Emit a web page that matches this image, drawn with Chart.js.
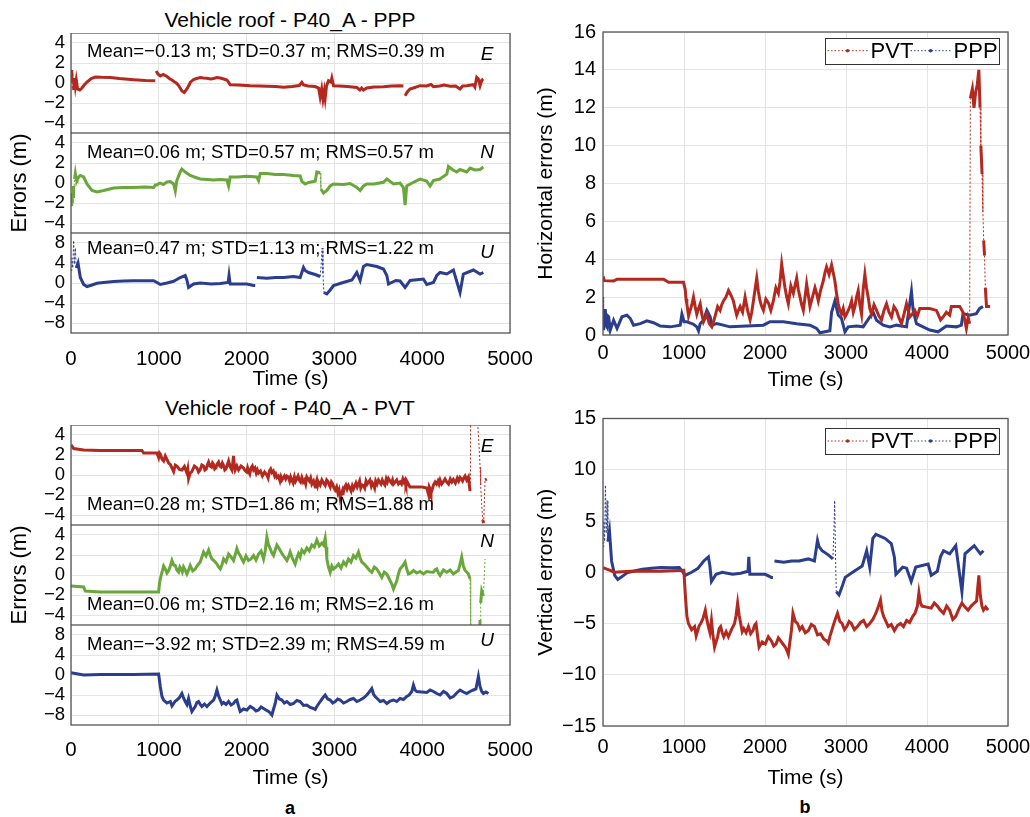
<!DOCTYPE html>
<html>
<head>
<meta charset="utf-8">
<script src="https://cdn.jsdelivr.net/npm/chart.js@4.4.0/dist/chart.umd.min.js"></script>
<style>
  body { margin: 0; background: #fff; width: 1030px; height: 817px; position: relative; overflow: hidden;
         font-family: "Liberation Sans", Arial, sans-serif; }
  canvas { position: absolute; }
  .lbl { position: absolute; transform: translate(-50%, -50%); white-space: nowrap; color: #000; }
</style>
</head>
<body>
<div class="lbl" style="left:290px;top:20px;font-size:21px">Vehicle roof - P40_A - PPP</div>
<div class="lbl" style="left:290px;top:408px;font-size:21px">Vehicle roof - P40_A - PVT</div>
<div class="lbl" style="left:290px;top:808px;font-size:18px;font-weight:bold">a</div>
<div class="lbl" style="left:805px;top:807px;font-size:18px;font-weight:bold">b</div>
<script>
const FONT = '"Liberation Sans", Arial, sans-serif';
const RED = '#b3291f', GREEN = '#6aa73a', BLUE = '#2b3d8d';
const GRID = '#e4e4e4';

// tick labels
const timeTicks = [0, 1000, 2000, 3000, 4000, 5000];
const enTicks = [-4, -2, 0, 2, 4];
const uTicks = [-8, -4, 0, 4, 8];
const horTicks = [0, 2, 4, 6, 8, 10, 12, 14, 16];
const verTicks = [-15, -10, -5, 0, 5, 10, 15];
const legendNames = ['PVT', 'PPP'];

// statistics printed in the strips
const pppStats = ['Mean=\u22120.13 m; STD=0.37 m; RMS=0.39 m', 'Mean=0.06 m; STD=0.57 m; RMS=0.57 m', 'Mean=0.47 m; STD=1.13 m; RMS=1.22 m'];
const pvtStats = ['Mean=0.28 m; STD=1.86 m; RMS=1.88 m', 'Mean=0.06 m; STD=2.16 m; RMS=2.16 m', 'Mean=\u22123.92 m; STD=2.39 m; RMS=4.59 m'];
const compNames = ['E', 'N', 'U'];

// PPP errors [time s, value m]
const pppE = [[0,0.2],[8,1.3],[15,-0.6],[22,1.0],[30,-0.7],[40,0.5],[50,-0.3],[60,0.3],[75,-0.6],[100,-0.7],[125,-0.5],[150,-0.2],[182,0.1],[230,0.45],[277,0.6],[350,0.57],[448,0.55],[550,0.45],[713,0.33],[850,0.25],[960,0.22],[962,null],[970,1.2],[990,0.9],[1017,0.7],[1050,0.85],[1093,0.65],[1120,0.45],[1150,0.3],[1180,0.1],[1206,-0.05],[1230,-0.3],[1263,-0.8],[1290,-0.95],[1320,-0.6],[1345,-0.2],[1358,0.05],[1396,0.35],[1430,0.45],[1472,0.55],[1510,0.5],[1548,0.48],[1590,0.4],[1624,0.45],[1660,0.55],[1700,0.5],[1740,0.4],[1776,0.3],[1813,-0.17],[1900,-0.2],[2041,-0.27],[2150,-0.3],[2231,-0.33],[2330,-0.35],[2421,-0.43],[2520,-0.35],[2600,-0.25],[2629,0.07],[2648,-0.2],[2700,-0.3],[2780,-0.35],[2820,-0.5],[2838,-1.4],[2855,-0.6],[2870,-1.6],[2885,-0.8],[2895,-1.5],[2910,-0.3],[2933,0.23],[2960,0.1],[2971,0.5],[2990,-0.27],[3050,-0.3],[3150,-0.35],[3255,-0.45],[3290,-0.7],[3310,-0.5],[3331,-0.7],[3369,-0.5],[3450,-0.4],[3559,-0.37],[3650,-0.3],[3748,-0.27],[3786,-0.3],[3795,null],[3805,-1.27],[3830,-0.9],[3860,-0.6],[3900,-0.5],[3976,-0.27],[4050,-0.3],[4100,-0.15],[4128,-0.37],[4200,-0.3],[4250,-0.2],[4318,-0.33],[4380,-0.3],[4431,-0.6],[4460,-0.3],[4507,-0.27],[4583,-0.17],[4600,-0.4],[4621,0.57],[4640,0.4],[4659,-0.27],[4680,0.3],[4697,0.4]];
const pppN = [[0,-1.8],[5,-2.3],[11,-1.0],[18,-2.0],[25,-0.3],[30,-1.5],[40,0.4],[49,0.95],[60,0.3],[68,0.25],[87,0.6],[106,0.75],[144,0.6],[182,-0.1],[239,-0.75],[296,-0.9],[372,-0.75],[486,-0.5],[600,-0.45],[713,-0.45],[850,-0.4],[941,-0.45],[960,-0.2],[979,-0.2],[1000,-0.05],[1017,0],[1050,-0.15],[1093,0.1],[1131,0.15],[1169,-0.1],[1188,-0.8],[1206,0.25],[1244,1.1],[1263,1.4],[1301,1.1],[1358,0.75],[1420,0.55],[1472,0.4],[1550,0.35],[1624,0.3],[1700,0.35],[1776,0.3],[1795,-0.3],[1813,0.6],[1900,0.6],[2003,0.67],[2117,0.6],[2136,0.25],[2155,0.95],[2231,0.95],[2330,0.85],[2421,0.85],[2534,0.75],[2610,0.7],[2629,0.17],[2667,-0.1],[2705,0.05],[2781,0.17],[2800,1.1],[2838,1.0],[2846,-0.6],[2876,-1.0],[2914,-0.75],[2952,-0.3],[2990,-0.1],[3100,-0.15],[3179,-0.05],[3255,-0.45],[3293,-0.75],[3331,-0.3],[3369,-0.1],[3450,-0.1],[3559,0.07],[3597,0.4],[3673,-0.1],[3748,0],[3786,-0.45],[3805,-2.2],[3824,-0.3],[3900,0.07],[3976,0.4],[4050,0.2],[4090,-0.3],[4128,0.25],[4200,0.4],[4280,0.88],[4299,1.65],[4350,1.3],[4393,1.1],[4431,1.35],[4507,1.1],[4545,1.5],[4600,1.3],[4659,1.35],[4697,1.6]];
const pppU = [[0,2.5],[10,5],[20,3],[30,8.5],[40,3.8],[50,7],[60,3],[80,4],[106,1.1],[144,-0.3],[182,-0.7],[239,-0.4],[296,-0.05],[372,0.1],[486,0.3],[600,0.4],[713,0.47],[850,0.45],[941,0.47],[979,0.1],[1017,-0.3],[1093,0],[1169,0.35],[1244,1.1],[1301,1.5],[1320,0.6],[1339,-0.9],[1396,-0.2],[1472,0],[1600,-0.2],[1700,-0.1],[1790,0.1],[1800,1.5],[1813,-0.2],[1900,-0.2],[2003,-0.2],[2079,-0.5],[2098,-0.5],[2108,null],[2117,1.1],[2231,0.97],[2330,1.1],[2421,1.1],[2534,1.3],[2610,1.1],[2648,3.1],[2667,2.5],[2705,2.1],[2781,1.7],[2838,1.3],[2850,3.8],[2860,7],[2870,1.8],[2880,-1.9],[2914,-2.2],[2952,-1.4],[2990,-0.5],[3100,0.1],[3200,0.6],[3255,2.1],[3293,0.5],[3331,3.3],[3369,3.7],[3483,3.3],[3559,2.8],[3597,1.5],[3616,-0.2],[3700,0.5],[3748,0.4],[3805,-0.9],[3862,0.5],[4014,0.8],[4052,-0.3],[4128,0.1],[4166,1.5],[4204,2.1],[4280,1.8],[4355,2.6],[4431,-1.9],[4469,1.8],[4583,2.6],[4659,1.8],[4697,2.1]];

// PVT errors [time s, value m]
const pvtE = [[0,3.0],[30,2.65],[144,2.5],[334,2.45],[713,2.45],[808,2.45],[827,2.2],[979,2.2],[998,1.75],[1008,2.2],[1017,2.1],[1036,1.6],[1055,1.4],[1074,1.9],[1093,1.55],[1112,1.2],[1131,1.05],[1150,0.7],[1169,0.35],[1188,1.0],[1206,0.9],[1235,0.55],[1263,0.5],[1292,0.85],[1320,0.2],[1330,0.6],[1339,-0.35],[1358,0.2],[1377,0.35],[1405,0.9],[1434,0.7],[1452,0.3],[1470,0.5],[1490,1.0],[1510,0.9],[1525,0.5],[1540,0.6],[1553,1.0],[1567,1.3],[1583,0.9],[1600,0.8],[1612,1.2],[1624,1.05],[1637,0.6],[1650,0.7],[1665,1.1],[1681,1.3],[1695,0.9],[1710,0.8],[1724,1.2],[1738,0.95],[1752,0.5],[1765,0.6],[1780,1.0],[1795,1.4],[1813,0.8],[1832,0.5],[1841,1.1],[1851,1.9],[1860,1.0],[1870,0.5],[1889,0.9],[1908,0.5],[1936,0.9],[1965,0.7],[1982,0.45],[2000,0.3],[2011,0.7],[2022,0.35],[2036,0.1],[2050,0.7],[2065,0.9],[2079,0.5],[2095,0.7],[2110,0.2],[2123,0.5],[2136,0.2],[2158,0.4],[2180,-0.1],[2205,0.3],[2231,0],[2245,-0.3],[2260,0.4],[2274,0.6],[2288,0.25],[2304,0.4],[2320,-0.1],[2332,0.1],[2345,-0.25],[2362,-0.1],[2380,-0.6],[2391,-0.2],[2402,-0.5],[2416,-0.3],[2430,-0.1],[2445,-0.4],[2459,-0.1],[2475,-0.2],[2490,-0.6],[2502,-0.2],[2515,-0.5],[2530,-0.8],[2545,-0.2],[2558,-0.6],[2572,-0.35],[2586,-0.1],[2600,-0.5],[2615,-0.7],[2629,-0.25],[2645,-0.7],[2660,-0.5],[2673,-0.9],[2686,-0.2],[2700,-0.4],[2715,-0.6],[2729,-0.3],[2743,-0.9],[2762,-0.6],[2781,-1.2],[2790,-0.8],[2800,-0.5],[2810,-1.0],[2819,-0.7],[2838,-1.0],[2857,-0.5],[2876,-0.8],[2895,-1.05],[2912,-0.5],[2930,-0.7],[2941,-1.0],[2952,-1.2],[2966,-0.7],[2980,-0.9],[2995,-1.3],[3009,-1.5],[3025,-1.2],[3040,-1.8],[3053,-1.5],[3066,-2.3],[3078,-1.9],[3090,-1.6],[3097,-2.0],[3104,-1.6],[3117,-1.2],[3130,-1.0],[3145,-1.4],[3160,-1.05],[3175,-1.3],[3190,-1.6],[3204,-1.1],[3217,-1.4],[3231,-1.1],[3245,-0.8],[3260,-1.2],[3274,-0.9],[3287,-0.6],[3300,-1.3],[3315,-1.0],[3331,-1.05],[3345,-1.3],[3360,-0.6],[3374,-0.9],[3388,-0.7],[3404,-0.5],[3420,-1.1],[3432,-0.8],[3445,-1.0],[3458,-1.3],[3470,-0.6],[3486,-0.9],[3502,-0.5],[3516,-0.7],[3530,-0.9],[3545,-0.5],[3559,-0.8],[3575,-1.0],[3590,-0.4],[3603,-0.7],[3616,-0.35],[3633,-0.6],[3650,-0.8],[3662,-0.5],[3673,-0.9],[3692,-0.7],[3710,-0.5],[3729,-0.9],[3748,-0.7],[3764,-0.9],[3780,-0.4],[3793,-0.7],[3805,-0.5],[3815,-0.9],[3824,-0.6],[3842,-0.9],[3860,-1.2],[3919,-1.2],[4000,-1.2],[4052,-1.3],[4062,-1.6],[4071,-1.9],[4080,-1.2],[4090,-1.4],[4100,-1.8],[4109,-1.6],[4128,-1.0],[4147,-0.7],[4164,-0.9],[4180,-0.6],[4192,-0.9],[4204,-0.5],[4222,-0.9],[4240,-0.7],[4260,-0.4],[4280,-0.7],[4300,-0.9],[4320,-0.4],[4338,-0.7],[4355,-0.45],[4378,-0.8],[4400,-0.3],[4416,-0.6],[4431,-0.25],[4445,-0.4],[4460,-0.6],[4474,-0.3],[4488,-0.1],[4507,-0.5],[4526,-0.2],[4545,-1.6],[4550,5.6],[4629,5.6],[4640,4],[4650,2.5],[4659,0.8],[4666,-1],[4678,-3],[4689,-4.5],[4700,-4.8],[4716,-0.5],[4735,-0.4]];
const pvtN = [[0,-1.1],[144,-1.2],[163,-1.6],[334,-1.7],[713,-1.7],[998,-1.7],[1009,-0.75],[1022,-0.2],[1036,0.27],[1055,0.9],[1074,0.6],[1093,0.2],[1112,0.45],[1131,0.9],[1150,1.45],[1169,1.0],[1188,0.95],[1206,0.5],[1225,0.3],[1240,0.8],[1255,0.6],[1268,0.3],[1282,0.8],[1300,0.5],[1320,0.1],[1339,0.5],[1358,0.95],[1386,0.4],[1415,0.6],[1444,1.0],[1472,1.3],[1491,1.8],[1510,2.3],[1538,1.9],[1567,2.5],[1586,2.0],[1605,1.6],[1633,1.4],[1662,1.1],[1681,0.8],[1700,0.6],[1719,1.0],[1738,1.6],[1766,1.3],[1795,2.1],[1823,1.8],[1851,1.45],[1870,2.0],[1889,2.65],[1908,2.2],[1927,1.95],[1946,1.6],[1965,1.3],[1993,1.9],[2022,1.45],[2050,1.6],[2079,1.95],[2107,1.5],[2136,2.1],[2165,2.4],[2193,1.6],[2212,2.4],[2231,3.8],[2250,3.0],[2269,2.65],[2288,2.2],[2307,1.95],[2326,2.5],[2345,3.0],[2374,2.6],[2402,2.15],[2430,1.8],[2459,1.45],[2478,1.8],[2496,2.3],[2525,1.6],[2553,1.1],[2572,1.7],[2591,2.15],[2610,1.8],[2629,2.5],[2657,2.2],[2686,2.7],[2714,2.4],[2743,3.0],[2771,2.8],[2800,3.5],[2828,2.9],[2857,3.2],[2876,3.0],[2895,3.7],[2905,2.8],[2914,1.6],[2933,0.8],[2952,0.27],[2971,0.9],[2990,0.6],[3019,0.8],[3047,1.1],[3076,0.7],[3104,1.3],[3132,1.0],[3160,1.6],[3189,1.3],[3217,1.95],[3245,1.7],[3274,2.3],[3293,1.7],[3312,1.3],[3340,1.1],[3369,0.8],[3397,0.5],[3426,0.27],[3455,0.8],[3483,0.6],[3511,0.2],[3540,-0.25],[3568,0.3],[3597,0.1],[3625,-0.4],[3654,-0.9],[3673,-1.4],[3691,-1.0],[3710,-0.6],[3729,0.1],[3748,0.6],[3776,0.9],[3805,1.3],[3824,0.6],[3843,0.1],[3871,0.2],[3900,0.45],[3938,0.2],[3976,0.35],[4014,0.1],[4052,0.35],[4090,0.3],[4128,0.27],[4147,0.5],[4166,0.6],[4185,0.2],[4204,-0.05],[4242,0.5],[4280,0.27],[4318,0.5],[4355,0.1],[4384,0.3],[4412,0.45],[4431,1.1],[4450,1.8],[4469,0.9],[4488,0.45],[4507,0.3],[4526,0.1],[4545,-0.4],[4553,-5.6],[4655,-5.6],[4659,-4.5],[4666,-2.8],[4678,-1.6],[4697,-2.1],[4716,1.6]];
const pvtU = [[0,0.45],[144,0],[334,0.1],[713,0.1],[998,0.2],[1017,-2.3],[1036,-4.3],[1055,-5],[1093,-5.6],[1131,-5.3],[1150,-6.2],[1169,-5.7],[1188,-5.2],[1206,-5],[1235,-4.5],[1263,-3.7],[1282,-4.6],[1301,-5.3],[1320,-5.9],[1339,-4.7],[1358,-6.2],[1377,-7.3],[1396,-6.8],[1415,-6.3],[1434,-5.5],[1453,-5.3],[1472,-5.9],[1491,-6.3],[1520,-5.8],[1548,-6.3],[1586,-5.6],[1624,-5],[1643,-4.2],[1662,-3],[1681,-4.2],[1700,-5],[1719,-5.8],[1738,-5.5],[1766,-5.9],[1795,-5.3],[1823,-6.0],[1851,-5.7],[1870,-5.2],[1889,-5],[1908,-6.2],[1927,-7.3],[1965,-6.8],[2003,-7],[2041,-6.3],[2079,-6.7],[2107,-7.2],[2136,-7],[2165,-6.4],[2193,-6.7],[2221,-7.0],[2250,-7.3],[2269,-7.6],[2288,-8],[2307,-6.8],[2326,-5.7],[2345,-4],[2374,-4.8],[2402,-5],[2430,-5.6],[2459,-5.3],[2497,-5.9],[2534,-5.7],[2572,-5.1],[2610,-5.3],[2648,-6.1],[2686,-6],[2724,-6.5],[2762,-6.7],[2781,-6.9],[2800,-6.3],[2819,-5.8],[2838,-5.3],[2867,-4.6],[2895,-4],[2924,-4.8],[2952,-5],[2981,-5.6],[3009,-5.3],[3038,-4.8],[3066,-5],[3104,-5.6],[3141,-5.3],[3179,-4.9],[3217,-4.7],[3255,-5.3],[3293,-5],[3331,-4.6],[3369,-4],[3397,-3.4],[3426,-2.7],[3445,-3.8],[3464,-4.3],[3493,-4.8],[3521,-5.3],[3559,-5.1],[3597,-5.7],[3635,-5.2],[3673,-5],[3710,-5.3],[3748,-4.7],[3786,-4.9],[3824,-4.3],[3852,-4.0],[3881,-3.3],[3900,-2],[3919,-3.0],[3938,-3.3],[3995,-3.4],[4052,-3.5],[4090,-3.0],[4128,-3.3],[4166,-3.7],[4204,-4],[4242,-3.3],[4280,-3.7],[4318,-4.6],[4355,-4.3],[4393,-3.6],[4431,-3],[4469,-3.4],[4507,-3.7],[4545,-3.3],[4583,-3],[4612,-2.8],[4640,-0.3],[4659,-2.3],[4678,-3.3],[4697,-3.7],[4725,-3.4],[4754,-3.7]];

// horizontal errors [time s, value m]
const pvtHor = [[0,3.1],[16,2.87],[131,2.85],[173,2.95],[337,2.95],[748,2.95],[809,2.78],[994,2.78],[1015,2.4],[1025,1.9],[1035,1.65],[1056,1.0],[1076,1.3],[1097,1.6],[1117,2.0],[1138,1.5],[1158,1.1],[1179,1.4],[1200,1.65],[1220,1.1],[1241,0.7],[1262,0.9],[1282,1.1],[1312,0.6],[1343,0.43],[1364,0.7],[1384,1.0],[1415,1.5],[1446,1.3],[1466,1.6],[1487,1.8],[1518,2.0],[1549,2.35],[1580,2.1],[1610,1.8],[1630,1.4],[1651,1.05],[1672,1.3],[1693,1.5],[1723,1.2],[1754,2.0],[1785,1.3],[1816,0.8],[1836,1.2],[1857,1.8],[1877,2.4],[1898,3.0],[1918,2.3],[1939,1.8],[1960,1.5],[1980,1.3],[2011,1.9],[2042,1.7],[2072,1.3],[2103,1.8],[2134,2.5],[2165,2.2],[2185,2.8],[2206,3.75],[2226,3.1],[2247,2.5],[2268,2.0],[2288,1.65],[2319,2.6],[2350,2.2],[2370,2.6],[2391,3.0],[2411,2.4],[2432,2.0],[2452,1.6],[2473,1.3],[2494,2.0],[2514,2.7],[2535,2.1],[2555,1.5],[2586,2.0],[2617,2.5],[2637,2.2],[2658,1.8],[2689,2.4],[2719,2.85],[2740,3.3],[2760,3.6],[2791,3.2],[2822,3.7],[2842,3.3],[2863,2.85],[2883,2.2],[2904,1.65],[2924,1.3],[2945,1.1],[2966,1.4],[2987,0.95],[3007,1.1],[3028,1.3],[3048,1.5],[3069,1.8],[3090,1.2],[3110,1.5],[3130,2.0],[3151,2.35],[3171,1.6],[3192,1.1],[3212,2.4],[3233,3.2],[3253,2.5],[3274,2.0],[3294,1.4],[3315,1.1],[3346,1.6],[3377,1.3],[3407,1.0],[3438,0.8],[3469,1.3],[3500,1.65],[3531,1.2],[3562,0.95],[3592,1.5],[3623,1.3],[3654,0.9],[3685,0.6],[3716,1.1],[3747,1.65],[3768,1.3],[3788,0.95],[3818,1.1],[3849,1.3],[3880,1.0],[3911,1.4],[4034,1.4],[4116,1.3],[4137,1.1],[4168,0.8],[4198,0.95],[4239,1.2],[4280,1.05],[4301,1.5],[4404,1.5],[4445,1.2],[4466,0.8],[4486,0.35],[4507,0.9],[4527,0.6],[4535,12.5],[4560,13.0],[4580,12.0],[4600,12.8],[4620,13.2],[4640,14.0],[4655,12.0],[4665,10.0],[4680,8.5],[4690,6.5],[4700,5.0],[4710,4.2],[4720,2.5],[4735,1.5],[4780,1.5]];
const pppHor = [[0,2.0],[8,0.26],[20,1.3],[29,1.3],[40,0.5],[49,0.43],[60,1.0],[70,0.96],[90,0.26],[131,0.78],[173,0.35],[234,0.96],[296,1.05],[337,0.87],[378,0.52],[460,0.6],[542,0.75],[624,0.65],[707,0.47],[830,0.43],[953,0.52],[974,1.1],[1000,0.7],[1035,0.7],[1117,0.57],[1158,0.43],[1179,0.22],[1200,0.6],[1241,0.78],[1282,1.3],[1323,0.96],[1343,0.52],[1405,0.6],[1569,0.43],[1775,0.47],[1980,0.52],[2062,0.7],[2226,0.7],[2391,0.6],[2555,0.52],[2637,0.35],[2678,0.12],[2801,0.23],[2822,1.2],[2863,1.8],[2904,1.05],[2945,0.87],[2987,0.17],[3028,0.43],[3130,0.47],[3212,0.43],[3295,0.96],[3336,1.2],[3377,0.78],[3459,0.52],[3541,0.43],[3623,0.52],[3747,0.43],[3808,2.3],[3829,1.3],[3870,0.6],[3952,0.43],[4034,0.26],[4137,0.17],[4239,0.47],[4363,0.43],[4424,0.52],[4445,1.13],[4527,1.05],[4609,1.13],[4650,1.4],[4691,1.5]];

const minus = v => String(v).replace('-', '\u2212');

// frame, stats text, component tag and in-plot legend
const overlay = {
  id: 'overlay',
  afterDatasetsDraw(chart, args, o) {
    const { ctx, chartArea: a } = chart;
    ctx.save();
    if (o.legend) {
      const L = o.legend;
      const bx = a.right - L.dr - 174, by = a.top + L.dt;
      ctx.fillStyle = '#fff';
      ctx.fillRect(bx, by, 174, 26);
      ctx.strokeStyle = '#333';
      ctx.lineWidth = 1;
      ctx.strokeRect(Math.round(bx) + 0.5, Math.round(by) + 0.5, 174, 26);
      const colors = [RED, BLUE];
      const sx = [3, 86], tx = [46, 129];
      legendNames.forEach((name, i) => {
        const cy = by + 13;
        ctx.strokeStyle = colors[i];
        ctx.lineWidth = 1;
        ctx.setLineDash([1.5, 2]);
        ctx.beginPath();
        ctx.moveTo(bx + sx[i], cy);
        ctx.lineTo(bx + sx[i] + 40, cy);
        ctx.stroke();
        ctx.setLineDash([]);
        ctx.fillStyle = colors[i];
        ctx.beginPath();
        ctx.arc(bx + sx[i] + 20, cy, 1.8, 0, Math.PI * 2);
        ctx.fill();
        ctx.fillStyle = '#000';
        ctx.font = '22px ' + FONT;
        ctx.textBaseline = 'middle';
        ctx.textAlign = 'left';
        ctx.fillText(name, bx + tx[i], cy + 1);
      });
    }
    ctx.strokeStyle = '#555';
    ctx.lineWidth = 1.3;
    ctx.strokeRect(a.left, a.top, a.right - a.left, a.bottom - a.top);
    ctx.fillStyle = '#000';
    ctx.textBaseline = 'middle';
    if (o.stat) {
      ctx.font = '18.5px ' + FONT;
      ctx.textAlign = 'left';
      ctx.fillText(o.stat, a.left + 16, a.top + o.statDy);
    }
    if (o.tag) {
      ctx.font = 'italic 19px ' + FONT;
      ctx.textAlign = 'center';
      ctx.fillText(o.tag, a.right - 23, a.top + o.tagDy);
    }
    ctx.restore();
  }
};

function plot(box, cfg) {
  const cv = document.createElement('canvas');
  cv.width = box.w;
  cv.height = box.h;
  cv.style.left = box.x + 'px';
  cv.style.top = box.y + 'px';
  document.body.appendChild(cv);
  // big jumps between samples are drawn as thin dotted links, like the original markers-only gaps
  const dotted = c => {
    const p = c.p0.parsed, q = c.p1.parsed;
    const dy = Math.abs(q.y - p.y), dx = q.x - p.x;
    return dy > cfg.jump || (dx <= 12 && dy > 1.4);
  };
  return new Chart(cv, {
    type: 'line',
    data: {
      datasets: cfg.series.map(s => ({
        data: s.data.map(p => ({ x: p[0], y: p[1] })),
        borderColor: s.color,
        borderWidth: 3,
        pointRadius: 0,
        tension: 0,
        spanGaps: false,
        segment: {
          borderWidth: c => dotted(c) ? 1 : undefined,
          borderDash: c => dotted(c) ? [2, 2] : undefined
        }
      }))
    },
    options: {
      responsive: false,
      animation: false,
      devicePixelRatio: 1,
      layout: { padding: { top: cfg.padTop || 0, right: cfg.padRight, bottom: 0, left: 0 } },
      plugins: { legend: { display: false }, tooltip: { enabled: false }, overlay: cfg.overlay },
      scales: {
        x: {
          type: 'linear', min: 0, max: 5000,
          afterBuildTicks: s => { s.ticks = timeTicks.map(v => ({ value: v })); },
          afterFit: s => { s.height = cfg.xh; s.paddingLeft = 0; s.paddingRight = 0; },
          grid: { color: GRID, drawTicks: false },
          border: { display: false },
          ticks: { display: cfg.xh > 0, color: '#000', font: { family: FONT, size: cfg.xFont || 20 },
                   padding: cfg.xPad || 0, maxRotation: 0, autoSkip: false, callback: v => String(v) },
          title: { display: cfg.xh > 0, text: 'Time (s)', color: '#000', font: { family: FONT, size: 21 },
                   padding: { top: 0, bottom: cfg.xTitlePad || 0 } }
        },
        y: {
          min: cfg.ymin, max: cfg.ymax,
          afterBuildTicks: s => { s.ticks = cfg.yTicks.map(v => ({ value: v })); },
          afterFit: s => { s.width = cfg.yw; s.paddingTop = 0; s.paddingBottom = 0; },
          grid: { color: GRID, drawTicks: false },
          border: { display: false },
          ticks: { color: '#000', font: { family: FONT, size: cfg.yFont }, padding: cfg.yPad,
                   autoSkip: false, callback: v => minus(v) },
          title: { display: !!cfg.yTitle, text: cfg.yTitle, color: '#000', font: { family: FONT, size: cfg.yTitleFont || 21 },
                   padding: { top: cfg.yTitlePad || 0, bottom: 0 } }
        }
      }
    },
    plugins: [overlay]
  });
}

// left column: three strips per solution
function stripGroup(top, series, stats, colors, bottomCfg, dys) {
  const tops = [top, top + 100, top + 200];
  [0, 1, 2].forEach(i => {
    const isU = i === 2;
    plot({ x: 0, y: tops[i], w: 540, h: isU ? 100 + bottomCfg.xh : 100 }, {
      series: [{ data: series[i], color: colors[i] }],
      ymin: isU ? -10 : -5, ymax: isU ? 10 : 5,
      yTicks: isU ? uTicks : enTicks,
      jump: isU ? 5 : 2.8,
      yw: 71, yPad: 6, yFont: 18.5,
      padRight: 30,
      xh: isU ? bottomCfg.xh : 0,
      xPad: bottomCfg.xPad, xFont: 20.5, xTitlePad: bottomCfg.xTitlePad,
      yTitle: i === 1 ? 'Errors (m)' : '', yTitleFont: 22, yTitlePad: 7,
      overlay: { stat: stats[i], statDy: dys[i][0], tag: compNames[i], tagDy: dys[i][1] }
    });
  });
}

stripGroup(33, [pppE, pppN, pppU], pppStats, [RED, GREEN, BLUE],
  { xh: 63, xPad: 14, xTitlePad: 4 }, [[18.7, 22], [19.7, 20], [16.3, 19.7]]);
stripGroup(425, [pvtE, pvtN, pvtU], pvtStats, [RED, GREEN, BLUE],
  { xh: 70, xPad: 13, xTitlePad: 4 }, [[80, 21.3], [80, 16.7], [20, 15.7]]);

// right column
plot({ x: 530, y: 15, w: 500, h: 380 }, {
  series: [{ data: pvtHor, color: RED }, { data: pppHor, color: BLUE }],
  ymin: 0, ymax: 16, yTicks: horTicks, jump: 2.4,
  yw: 73, yPad: 7, yFont: 20,
  padTop: 17, padRight: 22,
  xh: 60, xPad: 6, xFont: 20, xTitlePad: 2,
  yTitle: 'Horizontal errors (m)', yTitlePad: 4,
  overlay: { legend: { dr: 9.4, dt: 5.7 } }
});

plot({ x: 530, y: 405, w: 500, h: 388 }, {
  series: [{ data: pvtU, color: RED }, { data: pppU, color: BLUE }],
  ymin: -15, ymax: 15, yTicks: verTicks, jump: 4.5,
  yw: 73, yPad: 7, yFont: 20,
  padTop: 13.5, padRight: 22,
  xh: 67, xPad: 9, xFont: 20, xTitlePad: 2,
  yTitle: 'Vertical errors (m)', yTitlePad: 4,
  overlay: { legend: { dr: 9.4, dt: 9.5 } }
});
</script>
</body>
</html>
